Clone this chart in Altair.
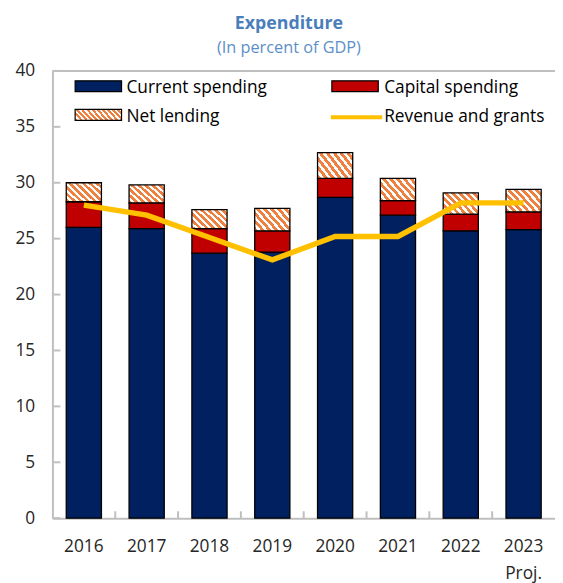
import altair as alt
import pandas as pd

years = ["2016", "2017", "2018", "2019", "2020", "2021", "2022", "2023"]
current = [26.0, 25.9, 23.7, 23.8, 28.7, 27.1, 25.7, 25.8]
capital = [2.3, 2.3, 2.2, 1.9, 1.7, 1.3, 1.5, 1.6]
net_lending = [1.7, 1.6, 1.7, 2.0, 2.3, 2.0, 1.9, 2.0]
revenue = [28.0, 27.1, 25.1, 23.1, 25.2, 25.2, 28.2, 28.2]
y_ticks = [0, 5, 10, 15, 20, 25, 30, 35, 40]
legend_labels = ["Current spending", "Capital spending", "Net lending", "Revenue and grants"]

NAVY = "#002060"
RED = "#C00000"
ORANGE = "#EE8040"
YELLOW = "#FFC000"
GRAY = "#BFBFBF"
FONT = "Open Sans"

W, H = 509, 453
STEP = W / len(years)


def hatch(n, x2, y2):
    stops = []
    for i in range(n):
        a = i / n
        b = (i + 0.55) / n
        c = (i + 1) / n
        stops += [
            alt.GradientStop(offset=a, color=ORANGE),
            alt.GradientStop(offset=b, color=ORANGE),
            alt.GradientStop(offset=b, color="white"),
            alt.GradientStop(offset=c, color="white"),
        ]
    return alt.LinearGradient(gradient="linear", stops=stops, x1=0, y1=1, x2=x2, y2=y2)


rows = []
for i, yr in enumerate(years):
    c0 = 0.0
    c1 = current[i]
    c2 = c1 + capital[i]
    c3 = c2 + net_lending[i]
    rows.append({"year": yr, "seg": "Current spending", "lo": c0, "hi": c1})
    rows.append({"year": yr, "seg": "Capital spending", "lo": c1, "hi": c2})
    rows.append({"year": yr, "seg": "Net lending", "lo": c2, "hi": c3})
bars_df = pd.DataFrame(rows)
rev_df = pd.DataFrame({"year": years, "revenue": revenue})
ytick_df = pd.DataFrame({"v": y_ticks})
xtick_df = pd.DataFrame({"year": years[1:]})

x_scale = alt.Scale(domain=years, paddingInner=0.44, paddingOuter=0.22)
y_scale = alt.Scale(domain=[0, 40])

x_enc = alt.X(
    "year:N",
    scale=x_scale,
    sort=years,
    axis=alt.Axis(
        title=None,
        labelAngle=0,
        labelFontSize=17.5,
        labelFont=FONT,
        labelColor="#262626",
        labelPadding=20,
        labelLineHeight=27,
        labelExpr="datum.value == '2023' ? ['2023', 'Proj.'] : datum.value",
        ticks=False,
        tickSize=0,
        domainColor=GRAY,
        domainWidth=2,
        grid=False,
    ),
)
y_axis = alt.Axis(
    title=None,
    values=y_ticks,
    labelFontSize=17.5,
    labelFont=FONT,
    labelColor="#262626",
    labelPadding=18,
    ticks=False,
    tickSize=0,
    domainColor=GRAY,
    domainWidth=2,
    grid=False,
)


def seg_bar(name, fill):
    return (
        alt.Chart(bars_df)
        .transform_filter(alt.datum.seg == name)
        .mark_bar(fill=fill, stroke="#000000", strokeWidth=1.3)
        .encode(
            x=x_enc,
            y=alt.Y("hi:Q", scale=y_scale, axis=y_axis),
            y2="lo:Q",
        )
    )


bar_cur = seg_bar("Current spending", NAVY)
bar_cap = seg_bar("Capital spending", RED)
bar_net = seg_bar("Net lending", hatch(8, 1.185, 0.323))

line = alt.Chart(rev_df).mark_line(color=YELLOW, strokeWidth=5.5).encode(
    x=alt.X("year:N", scale=x_scale, sort=years),
    y=alt.Y("revenue:Q", scale=y_scale),
)

yticks = alt.Chart(ytick_df).mark_rule(color=GRAY, strokeWidth=2).encode(
    y=alt.Y("v:Q", scale=y_scale),
    x=alt.value(0),
    x2=alt.value(8),
)
xticks = alt.Chart(xtick_df).mark_rule(color=GRAY, strokeWidth=2).encode(
    x=alt.X("year:N", scale=x_scale, sort=years, bandPosition=0),
    xOffset=alt.value(-0.22 * STEP),
    y=alt.value(H - 7),
    y2=alt.value(H),
)
top_line = alt.Chart(pd.DataFrame({"a": [0]})).mark_rule(color=GRAY, strokeWidth=2).encode(
    x=alt.value(0), x2=alt.value(W), y=alt.value(0)
)

leg_df = pd.DataFrame({"label": legend_labels})


def leg_rect(fill, x0, y0, w=47, h=11):
    return alt.Chart(leg_df).transform_filter("datum.label == 'Current spending'").mark_rect(
        fill=fill, stroke="#000000", strokeWidth=1.2
    ).encode(x=alt.value(x0), x2=alt.value(x0 + w), y=alt.value(y0), y2=alt.value(y0 + h))


def leg_text(label, x0, y0):
    return alt.Chart(leg_df).transform_filter(alt.datum.label == label).mark_text(
        align="left", baseline="alphabetic", fontSize=17.5, font=FONT, color="#000000"
    ).encode(text="label:N", x=alt.value(x0), y=alt.value(y0))


leg = [
    leg_rect(NAVY, 23, 10),
    leg_rect(RED, 283, 10),
    leg_rect(hatch(11, 1.16, 0.753), 23, 39),
    alt.Chart(leg_df).transform_filter("datum.label == 'Current spending'").mark_rule(
        color=YELLOW, strokeWidth=4
    ).encode(x=alt.value(282), x2=alt.value(334), y=alt.value(47)),
    leg_text("Current spending", 75, 22),
    leg_text("Capital spending", 336, 22),
    leg_text("Net lending", 75, 52),
    leg_text("Revenue and grants", 336, 52),
]

chart = alt.layer(
    bar_cur, bar_cap, bar_net, line, yticks, xticks, top_line, *leg
).properties(
    width=W,
    height=H,
    autosize=alt.AutoSizeParams(type="none"),
    padding={"left": 45, "top": 60, "right": 0, "bottom": 70},
    title=alt.TitleParams(
        text="Expenditure",
        subtitle="(In percent of GDP)",
        fontSize=18,
        font=FONT,
        fontWeight="bold",
        color="#4A7EBB",
        subtitleFontSize=16.5,
        subtitleFont=FONT,
        subtitleColor="#5B8FC7",
        subtitlePadding=7,
        anchor="middle",
        frame="group",
        dx=-15,
        offset=6,
    ),
).configure_view(stroke=None)

chart.save("out.html", embed_options={"renderer": "svg", "actions": False})
